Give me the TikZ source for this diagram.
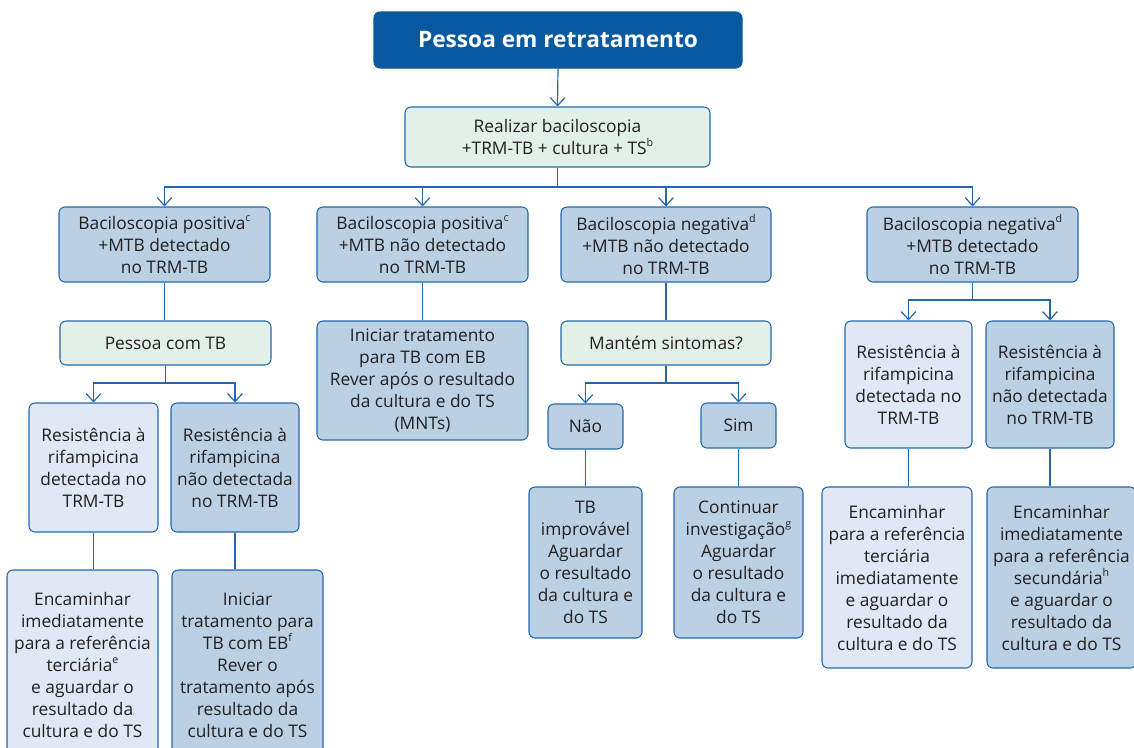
\documentclass[tikz,border=0pt]{standalone}
\usepackage{fontspec}
\setmainfont{Open Sans}
\usetikzlibrary{arrows.meta,calc}
\definecolor{dkblue}{RGB}{8,90,160}
\definecolor{lineblue}{RGB}{35,104,172}
\definecolor{midfill}{RGB}{188,208,228}
\definecolor{lightfill}{RGB}{224,232,245}
\definecolor{greenfill}{RGB}{226,240,231}
\definecolor{txt}{RGB}{35,31,32}
\newcommand\sups[1]{\raisebox{0.45em}{\fontsize{8}{8}\selectfont #1}}
\tikzset{
  box/.style={draw=lineblue, line width=0.8pt, rounded corners=4.5pt, align=center,
    text=txt, font=\fontsize{13}{16.5}\selectfont, inner sep=0pt},
  mbox/.style={box, fill=midfill},
  lbox/.style={box, fill=lightfill},
  gbox/.style={box, fill=greenfill},
  tbox/.style={box, fill=dkblue, draw=dkblue, text=white, font=\fontsize{17}{20}\selectfont\bfseries},
  arr/.style={line width=0.9pt, draw=lineblue, -{Straight Barb[length=6pt,width=11pt]}},
  ln/.style={line width=0.9pt, draw=lineblue},
}
\begin{document}
\begin{tikzpicture}[x=0.75pt,y=-0.75pt]
\useasboundingbox (0,0) rectangle (1134,747);
\clip (0,0) rectangle (1134,747);
\fill[white] (0,0) rectangle (1134,747);

\node[tbox, minimum width=368*0.75pt, minimum height=56*0.75pt] (top) at (558,40) {Pessoa em retratamento};
\node[gbox, minimum width=305*0.75pt, minimum height=60*0.75pt] (real) at (557.5,137) {Realizar baciloscopia\\+TRM-TB + cultura + TS\sups{b}};

\node[mbox, minimum width=211*0.75pt, minimum height=75*0.75pt] (b1) at (164.5,244.5) {Baciloscopia positiva\sups{c}\\+MTB detectado\\no TRM-TB};
\node[mbox, minimum width=211*0.75pt, minimum height=75*0.75pt] (b2) at (422.5,244.5) {Baciloscopia positiva\sups{c}\\+MTB não detectado\\no TRM-TB};
\node[mbox, minimum width=210*0.75pt, minimum height=75*0.75pt] (b3) at (666,244.5) {Baciloscopia negativa\sups{d}\\+MTB não detectado\\no TRM-TB};
\node[mbox, minimum width=211*0.75pt, minimum height=75*0.75pt] (b4) at (972.5,244.5) {Baciloscopia negativa\sups{d}\\+MTB detectado\\no TRM-TB};

\node[gbox, minimum width=211*0.75pt, minimum height=44*0.75pt] (pessoa) at (165.5,343) {Pessoa com TB};
\node[mbox, minimum width=211*0.75pt, minimum height=119*0.75pt] (ini) at (422.5,380.5) {Iniciar tratamento\\para TB com EB\\Rever após o resultado\\da cultura e do TS\\(MNTs)};
\node[gbox, minimum width=210*0.75pt, minimum height=44*0.75pt] (mant) at (666,343) {Mantém sintomas?};

\node[lbox, minimum width=129*0.75pt, minimum height=129*0.75pt] (r1) at (93.5,467.5) {Resistência à\\rifampicina\\detectada no\\TRM-TB};
\node[mbox, minimum width=128*0.75pt, minimum height=129*0.75pt] (r2) at (235,467.5) {Resistência à\\rifampicina\\não detectada\\no TRM-TB};
\node[mbox, minimum width=75*0.75pt, minimum height=45*0.75pt] (nao) at (585.5,426.5) {Não};
\node[mbox, minimum width=75*0.75pt, minimum height=45*0.75pt] (sim) at (738.5,425.5) {Sim};
\node[lbox, minimum width=127*0.75pt, minimum height=127*0.75pt] (r3) at (908.5,384.5) {Resistência à\\rifampicina\\detectada no\\TRM-TB};
\node[mbox, minimum width=128*0.75pt, minimum height=127*0.75pt] (r4) at (1050,384.5) {Resistência à\\rifampicina\\não detectada\\no TRM-TB};

\node[lbox, minimum width=151*0.75pt, minimum height=190*0.75pt] (enc1) at (82.5,665) {Encaminhar\\imediatamente\\para a referência\\terciária\sups{e}\\e aguardar o\\resultado da\\cultura e do TS};
\node[mbox, minimum width=151*0.75pt, minimum height=190*0.75pt] (ini2) at (247.5,665) {Iniciar\\tratamento para\\TB com EB\sups{f}\\Rever o\\tratamento após\\resultado da\\cultura e do TS};
\node[mbox, minimum width=113*0.75pt, minimum height=151*0.75pt] (tbi) at (585.5,562.5) {TB\\improvável\\Aguardar\\o resultado\\da cultura e\\do TS};
\node[mbox, minimum width=129*0.75pt, minimum height=151*0.75pt] (cont) at (738.5,562.5) {Continuar\\investigação\sups{g}\\Aguardar\\o resultado\\da cultura e\\do TS};
\node[lbox, minimum width=150*0.75pt, minimum height=181*0.75pt] (enc3) at (897,577.5) {Encaminhar\\para a referência\\terciária\\imediatamente\\e aguardar o\\resultado da\\cultura e do TS};
\node[mbox, minimum width=149*0.75pt, minimum height=181*0.75pt] (enc4) at (1061.5,577.5) {Encaminhar\\imediatamente\\para a referência\\secundária\sups{h}\\e aguardar o\\resultado da\\cultura e do TS};

\coordinate (hub) at (557,187);
\coordinate (hubL) at (165,383);
\coordinate (hubM) at (666,383);
\coordinate (hubR) at (972.5,300);

\draw[arr] (top.south) -- (real.north);
\draw[arr] (real.south) -- (real.south |- hub) -| (b1.north);
\draw[arr] (real.south) -- (real.south |- hub) -| (b2.north);
\draw[arr] (real.south) -- (real.south |- hub) -| (b3.north);
\draw[arr] (real.south) -- (real.south |- hub) -| (b4.north);

\draw[ln] (b1.south) -- (b1.south |- pessoa.north);
\draw[ln] (b2.south) -- (ini.north);
\draw[ln] (b3.south) -- (mant.north);

\draw[arr] (pessoa.south) -- (pessoa.south |- hubL) -| (r1.north);
\draw[arr] (pessoa.south) -- (pessoa.south |- hubL) -| (r2.north);
\draw[arr] (mant.south) -- (mant.south |- hubM) -| (nao.north);
\draw[arr] (mant.south) -- (mant.south |- hubM) -| (sim.north);
\draw[arr] (b4.south) -- (b4.south |- hubR) -| (r3.north);
\draw[arr] (b4.south) -- (b4.south |- hubR) -| (r4.north);

\draw[ln] (r1.south) -- (r1.south |- enc1.north);
\draw[ln] (r2.south) -- (r2.south |- ini2.north);
\draw[ln] (nao.south) -- (nao.south |- tbi.north);
\draw[ln] (sim.south) -- (sim.south |- cont.north);
\draw[ln] (r3.south) -- (r3.south |- enc3.north);
\draw[ln] (r4.south) -- (r4.south |- enc4.north);
\end{tikzpicture}
\end{document}
